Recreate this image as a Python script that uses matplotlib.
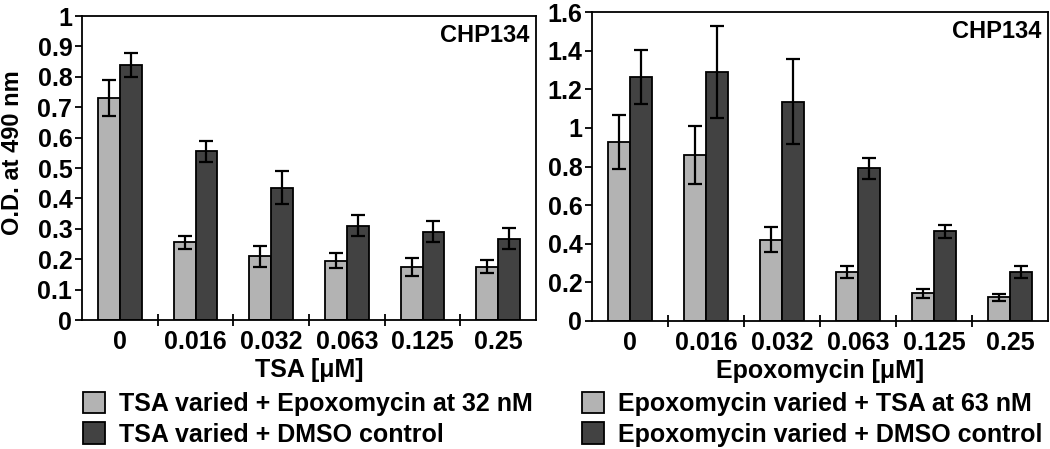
import numpy as np
import matplotlib
matplotlib.use("Agg")
import matplotlib.pyplot as plt
from matplotlib.ticker import MultipleLocator, FixedLocator

plt.rcParams['font.family'] = ['Liberation Sans', 'DejaVu Sans']
plt.rcParams['font.weight'] = 'bold'

# ----- dados -----
doses = ['0', '0.016', '0.032', '0.063', '0.125', '0.25']

tsa_epox = [0.73, 0.255, 0.21, 0.195, 0.175, 0.175]
tsa_epox_err = [0.06, 0.02, 0.035, 0.025, 0.03, 0.022]
tsa_dmso = [0.84, 0.555, 0.435, 0.31, 0.29, 0.268]
tsa_dmso_err = [0.04, 0.035, 0.055, 0.035, 0.035, 0.035]

epox_tsa = [0.925, 0.86, 0.42, 0.255, 0.143, 0.122]
epox_tsa_err = [0.14, 0.15, 0.065, 0.032, 0.022, 0.016]
epox_dmso = [1.265, 1.29, 1.135, 0.79, 0.465, 0.255]
epox_dmso_err = [0.14, 0.24, 0.22, 0.055, 0.033, 0.032]

cor_clara = '#b3b3b3'
cor_escura = '#424242'
fs = 18


def painel(ax, s1, e1, s2, e2, ymax, ystep, xlabel):
    x = np.arange(len(doses))
    w = 0.29
    b1 = ax.bar(x - w / 2, s1, w, color=cor_clara, edgecolor='black', linewidth=1.3,
                yerr=e1, error_kw=dict(ecolor='black', elinewidth=1.6, capsize=5, capthick=1.6))
    b2 = ax.bar(x + w / 2, s2, w, color=cor_escura, edgecolor='black', linewidth=1.3,
                yerr=e2, error_kw=dict(ecolor='black', elinewidth=1.6, capsize=5, capthick=1.6))
    ax.set_xlim(-0.5, len(doses) - 0.5)
    ax.set_ylim(0, ymax)
    ax.yaxis.set_major_locator(MultipleLocator(ystep))
    ax.yaxis.set_major_formatter(plt.FuncFormatter(lambda v, p: f'{v:g}'))
    ax.set_xticks(x)
    ax.set_xticklabels(doses)
    ax.xaxis.set_minor_locator(FixedLocator(np.arange(0.5, len(doses) - 0.5, 1)))
    ax.tick_params(axis='x', which='major', length=0, pad=7, labelsize=fs)
    ax.tick_params(axis='x', which='minor', direction='inout', length=8, width=1.3)
    ax.tick_params(axis='y', direction='out', length=5, width=1.3, labelsize=fs, pad=2)
    for sp in ax.spines.values():
        sp.set_linewidth(1.3)
    ax.set_xlabel(xlabel, fontsize=fs, fontweight='bold', labelpad=3)
    ax.text(0.985, 0.975, 'CHP134', transform=ax.transAxes, ha='right', va='top',
            fontsize=17, fontweight='bold')
    return b1, b2


fig = plt.figure(figsize=(10.5, 4.49), dpi=100)
ax1 = fig.add_axes([0.0781, 0.2873, 0.4324, 0.677])
ax2 = fig.add_axes([0.5638, 0.2851, 0.4343, 0.688])

h1 = painel(ax1, tsa_epox, tsa_epox_err, tsa_dmso, tsa_dmso_err, 1.0, 0.1, 'TSA [\u03bcM]')
h2 = painel(ax2, epox_tsa, epox_tsa_err, epox_dmso, epox_dmso_err, 1.6, 0.2, 'Epoxomycin [\u03bcM]')

fig.text(0.0115, 0.66, 'O.D. at 490 nm', rotation=90, ha='center', va='center',
         fontsize=17, fontweight='bold')

leg_kw = dict(loc='upper left', frameon=False, fontsize=fs, borderpad=0, borderaxespad=0,
              handlelength=0.9, handleheight=0.95, handletextpad=0.55, labelspacing=0.25)
fig.legend(h1, ['TSA varied + Epoxomycin at 32 nM', 'TSA varied + DMSO control'],
           bbox_to_anchor=(0.079, 0.128), **leg_kw)
fig.legend(h2, ['Epoxomycin varied + TSA at 63 nM', 'Epoxomycin varied + DMSO control'],
           bbox_to_anchor=(0.554, 0.128), **leg_kw)

plt.savefig('out.png', dpi=100)
